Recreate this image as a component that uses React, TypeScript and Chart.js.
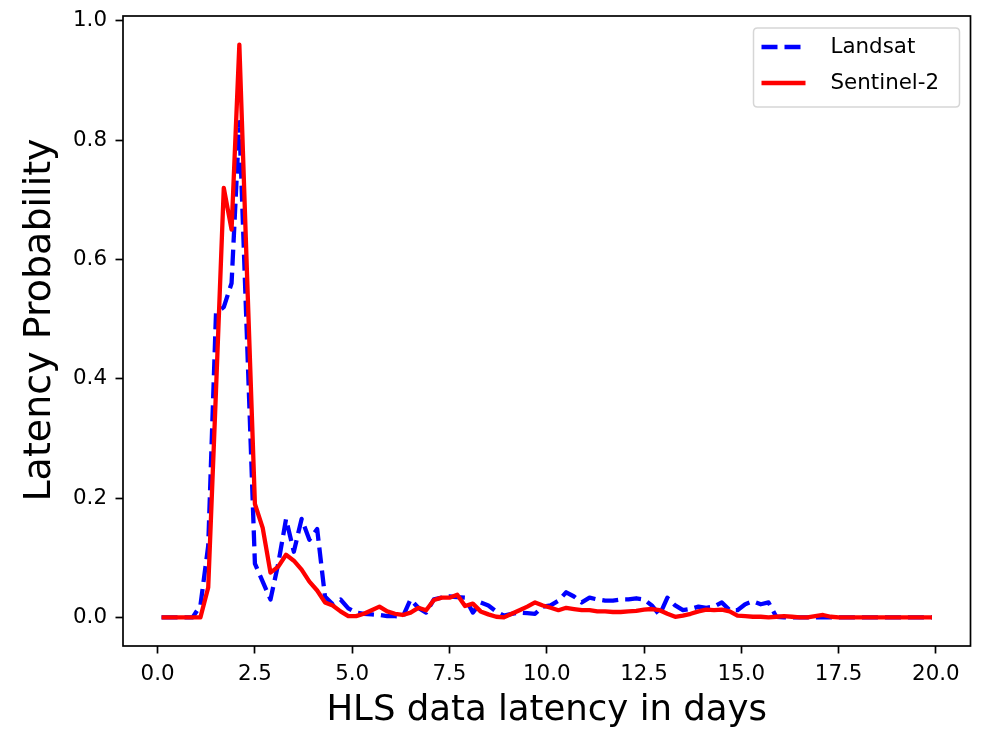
import React, { useEffect, useRef } from 'react';
import { Chart, registerables } from 'chart.js';

Chart.register(...registerables);

const latencyDays = [
  0.1, 0.3, 0.5, 0.7, 0.9, 1.1, 1.3, 1.5, 1.7, 1.9,
  2.1, 2.3, 2.5, 2.7, 2.9, 3.1, 3.3, 3.5, 3.7, 3.9,
  4.1, 4.3, 4.5, 4.7, 4.9, 5.1, 5.3, 5.5, 5.7, 5.9,
  6.1, 6.3, 6.5, 6.7, 6.9, 7.1, 7.3, 7.5, 7.7, 7.9,
  8.1, 8.3, 8.5, 8.7, 8.9, 9.1, 9.3, 9.5, 9.7, 9.9,
  10.1, 10.3, 10.5, 10.7, 10.9, 11.1, 11.3, 11.5, 11.7, 11.9,
  12.1, 12.3, 12.5, 12.7, 12.9, 13.1, 13.3, 13.5, 13.7, 13.9,
  14.1, 14.3, 14.5, 14.7, 14.9, 15.1, 15.3, 15.5, 15.7, 15.9,
  16.1, 16.3, 16.5, 16.7, 16.9, 17.1, 17.3, 17.5, 17.7, 17.9,
  18.1, 18.3, 18.5, 18.7, 18.9, 19.1, 19.3, 19.5, 19.7, 19.9,
];

const landsat = [
  0, 0, 0, 0, 0, 0.02, 0.12, 0.51, 0.52, 0.56,
  0.83, 0.46, 0.09, 0.06, 0.03, 0.09, 0.165, 0.11, 0.165, 0.13,
  0.148, 0.035, 0.022, 0.03, 0.015, 0.008, 0.006, 0.005, 0.004, 0.002,
  0.002, 0.001, 0.03, 0.016, 0.008, 0.03, 0.033, 0.035, 0.034, 0.033,
  0.008, 0.025, 0.02, 0.01, 0.003, 0.006, 0.008, 0.007, 0.006, 0.018,
  0.02, 0.028, 0.042, 0.035, 0.025, 0.033, 0.03, 0.028, 0.028, 0.03,
  0.03, 0.032, 0.03, 0.02, 0.004, 0.033, 0.02, 0.012, 0.014, 0.018,
  0.016, 0.018, 0.025, 0.012, 0.012, 0.022, 0.027, 0.022, 0.025, 0.001,
  0, 0, 0, 0, 0, 0, 0, 0, 0, 0,
  0, 0, 0, 0, 0, 0, 0, 0, 0, 0,
];

const sentinel2 = [
  0, 0, 0, 0, 0, 0, 0.05, 0.38, 0.72, 0.65,
  0.96, 0.57, 0.19, 0.15, 0.075, 0.085, 0.105, 0.095, 0.08, 0.06,
  0.045, 0.025, 0.02, 0.01, 0.002, 0.002, 0.006, 0.012, 0.018, 0.01,
  0.006, 0.004, 0.008, 0.016, 0.012, 0.029, 0.033, 0.033, 0.038, 0.019,
  0.023, 0.01, 0.005, 0.001, 0, 0.006, 0.012, 0.018, 0.025, 0.02,
  0.016, 0.012, 0.016, 0.014, 0.012, 0.012, 0.01, 0.01, 0.009, 0.009,
  0.01, 0.011, 0.013, 0.014, 0.012, 0.006, 0.001, 0.003, 0.006, 0.01,
  0.013, 0.012, 0.013, 0.01, 0.003, 0.002, 0.001, 0.001, 0, 0.001,
  0.002, 0.001, 0, 0, 0.002, 0.004, 0.001, 0, 0, 0,
  0, 0, 0, 0, 0, 0, 0, 0, 0, 0,
];

const xTickValues = [0, 2.5, 5, 7.5, 10, 12.5, 15, 17.5, 20];
const yTickValues = [0, 0.2, 0.4, 0.6, 0.8, 1.0];

const seriesNames = ['Landsat', 'Sentinel-2'];
const xTitle = 'HLS data latency in days';
const yTitle = 'Latency Probability';

const FONT = 'DejaVu Sans';
const LW = 4.3;
const DASH = [16, 7];

const framePlugin = {
  id: 'frame',
  afterDatasetsDraw(chart: any) {
    const { ctx, chartArea } = chart;
    ctx.save();
    ctx.strokeStyle = '#000';
    ctx.lineWidth = 1.7;
    ctx.strokeRect(chartArea.left, chartArea.top, chartArea.right - chartArea.left, chartArea.bottom - chartArea.top);
    ctx.restore();
  },
};

const titlesPlugin = {
  id: 'axisTitles',
  afterDraw(chart: any) {
    const { ctx, chartArea } = chart;
    ctx.save();
    ctx.fillStyle = '#000';
    ctx.textAlign = 'center';
    ctx.textBaseline = 'alphabetic';
    ctx.font = `35.5px "${FONT}"`;
    ctx.fillText(xTitle, (chartArea.left + chartArea.right) / 2, 720);
    ctx.translate(50, 320);
    ctx.rotate(-Math.PI / 2);
    ctx.font = `38px "${FONT}"`;
    ctx.fillText(yTitle, 0, 0);
    ctx.restore();
  },
};

const legendPlugin = {
  id: 'mplLegend',
  afterDraw(chart: any) {
    const { ctx, chartArea } = chart;
    const right = chartArea.right - 11;
    const top = chartArea.top + 12;
    const w = 206;
    const h = 79;
    const left = right - w;
    ctx.save();
    const r = 4;
    ctx.beginPath();
    ctx.moveTo(left + r, top);
    ctx.lineTo(left + w - r, top);
    ctx.quadraticCurveTo(left + w, top, left + w, top + r);
    ctx.lineTo(left + w, top + h - r);
    ctx.quadraticCurveTo(left + w, top + h, left + w - r, top + h);
    ctx.lineTo(left + r, top + h);
    ctx.quadraticCurveTo(left, top + h, left, top + h - r);
    ctx.lineTo(left, top + r);
    ctx.quadraticCurveTo(left, top, left + r, top);
    ctx.closePath();
    ctx.fillStyle = 'rgba(255,255,255,0.8)';
    ctx.fill();
    ctx.strokeStyle = 'rgba(204,204,204,0.8)';
    ctx.lineWidth = 1.5;
    ctx.stroke();

    const rows = [top + 19, top + 55];
    chart.data.datasets
      .slice()
      .sort((a: any, b: any) => a.legendIndex - b.legendIndex)
      .forEach((ds: any, i: number) => {
        const y = rows[i];
        ctx.beginPath();
        ctx.setLineDash(ds.borderDash || []);
        ctx.strokeStyle = ds.borderColor;
        ctx.lineWidth = LW;
        ctx.lineCap = 'butt';
        ctx.moveTo(left + 8, y);
        ctx.lineTo(left + 52, y);
        ctx.stroke();
        ctx.setLineDash([]);
        ctx.fillStyle = '#000';
        ctx.font = `21.4px "${FONT}"`;
        ctx.textBaseline = 'middle';
        ctx.textAlign = 'left';
        ctx.fillText(ds.label, left + 77, y);
      });
    ctx.restore();
  },
};

export default function App() {
  const ref = useRef<HTMLCanvasElement>(null);

  useEffect(() => {
    if (!ref.current) return;
    const toPts = (ys: number[]) => latencyDays.map((x, i) => ({ x, y: ys[i] }));
    const chart = new Chart(ref.current, {
      type: 'line',
      data: {
        datasets: [
          {
            label: seriesNames[1],
            legendIndex: 1,
            data: toPts(sentinel2),
            borderColor: '#ff0000',
            borderWidth: LW,
            pointRadius: 0,
            tension: 0,
            fill: false,
            borderJoinStyle: 'round',
            borderCapStyle: 'butt',
          } as any,
          {
            label: seriesNames[0],
            legendIndex: 0,
            data: toPts(landsat),
            borderColor: '#0000ff',
            borderWidth: LW,
            borderDash: DASH,
            pointRadius: 0,
            tension: 0,
            fill: false,
            borderJoinStyle: 'round',
            borderCapStyle: 'butt',
          } as any,
        ],
      },
      options: {
        responsive: false,
        animation: false,
        devicePixelRatio: 1,
        layout: { padding: { top: 16, right: 17.5, left: 0, bottom: 0 } },
        plugins: { legend: { display: false }, tooltip: { enabled: false } },
        scales: {
          x: {
            type: 'linear',
            min: -0.89,
            max: 20.89,
            afterBuildTicks: (s: any) => {
              s.ticks = xTickValues.map((v) => ({ value: v }));
            },
            afterFit: (s: any) => {
              s.height = 83;
              s.paddingLeft = 0;
              s.paddingRight = 0;
            },
            ticks: {
              callback: (v: any) => Number(v).toFixed(1),
              font: { family: FONT, size: 21.4 },
              color: '#000',
              padding: 8.5,
              maxRotation: 0,
              autoSkip: false,
            },
            grid: {
              drawOnChartArea: false,
              drawTicks: true,
              tickLength: 7.5,
              tickWidth: 1.7,
              tickColor: '#000',
            },
            border: { display: false },
          },
          y: {
            type: 'linear',
            min: -0.048,
            max: 1.008,
            afterBuildTicks: (s: any) => {
              s.ticks = yTickValues.map((v) => ({ value: v }));
            },
            afterFit: (s: any) => {
              s.width = 123;
              s.paddingTop = 0;
              s.paddingBottom = 0;
            },
            ticks: {
              callback: (v: any) => Number(v).toFixed(1),
              font: { family: FONT, size: 21.4 },
              color: '#000',
              padding: 8.5,
              autoSkip: false,
            },
            grid: {
              drawOnChartArea: false,
              drawTicks: true,
              tickLength: 7.5,
              tickWidth: 1.7,
              tickColor: '#000',
            },
            border: { display: false },
          },
        },
      },
      plugins: [framePlugin, legendPlugin, titlesPlugin],
    });
    return () => chart.destroy();
  }, []);

  return (
    <div style={{ position: 'absolute', left: 0, top: 0, width: 988, height: 729, background: '#fff' }}>
      <canvas ref={ref} width={988} height={729} style={{ display: 'block' }} />
    </div>
  );
}
